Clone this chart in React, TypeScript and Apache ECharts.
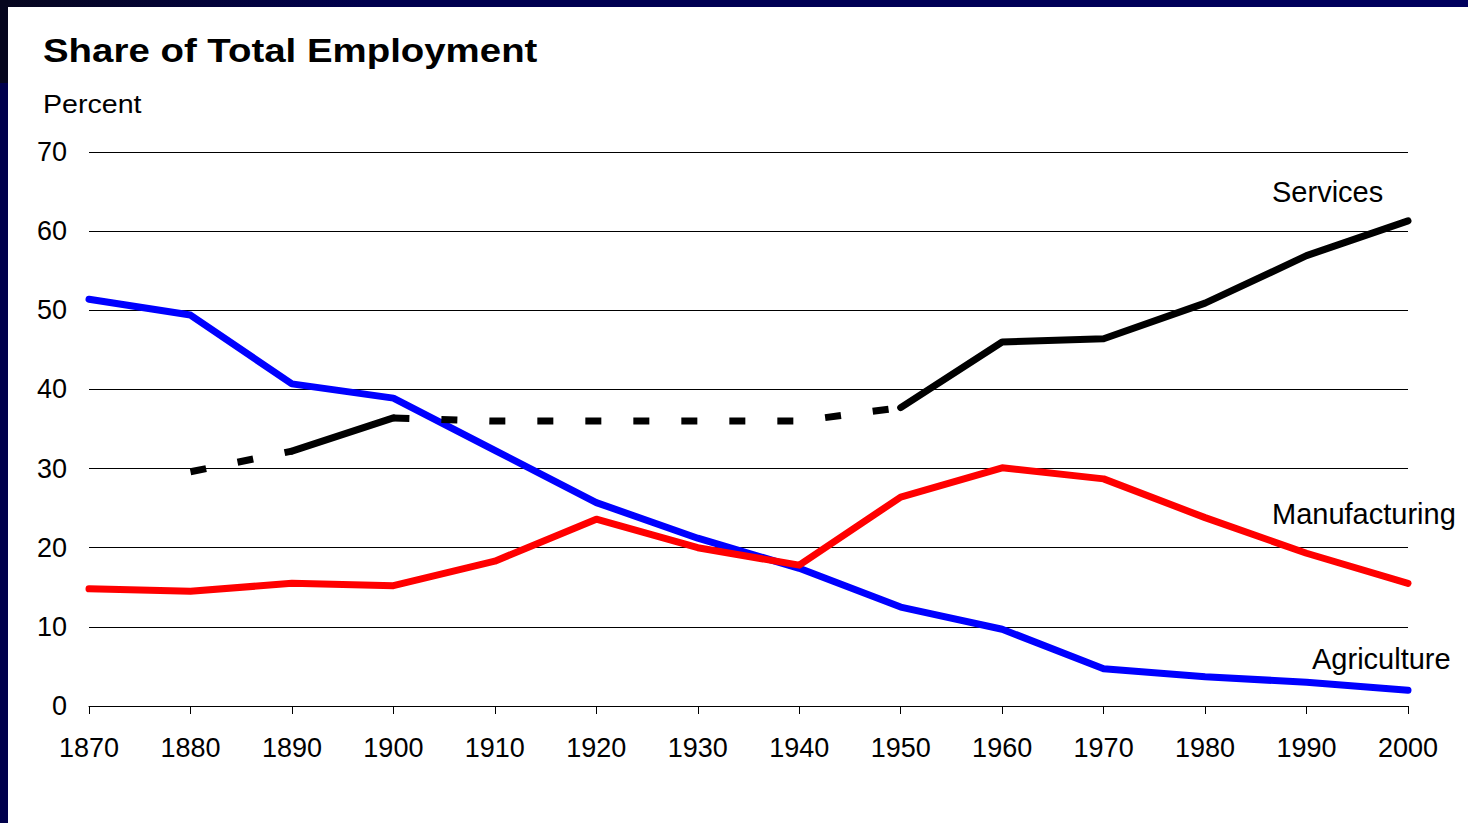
import React, { useEffect, useRef } from "react";
import * as echarts from "echarts";

const years = ["1870", "1880", "1890", "1900", "1910", "1920", "1930", "1940", "1950", "1960", "1970", "1980", "1990", "2000"];
const agriculture = [51.4, 49.4, 40.7, 38.9, 32.3, 25.7, 21.2, 17.4, 12.5, 9.7, 4.7, 3.7, 3.0, 2.0];
const manufacturing = [14.8, 14.5, 15.5, 15.2, 18.3, 23.6, 20.0, 17.8, 26.4, 30.1, 28.7, 23.8, 19.3, 15.5];
const services: (number | null)[] = [null, 29.6, 32.2, 36.4, 36.0, 36.0, 36.0, 36.0, 37.7, 46.0, 46.4, 50.9, 56.9, 61.3];
// index ranges of estimated (dashed) segments of the services line
const servicesDashedRanges = [[1, 2], [3, 8]];
const yTicks = { min: 0, max: 70, interval: 10 };

const FONT = '"Liberation Sans", Arial, sans-serif';

export default function App() {
  const ref = useRef<HTMLDivElement>(null);
  useEffect(() => {
    if (!ref.current) return;
    const chart = echarts.init(ref.current, undefined, { renderer: "svg" });

    const solidServices = services.map((v, i) => {
      const insideDashed = servicesDashedRanges.some(([a, b]) => i > a && i < b);
      const beforeFirst = i < servicesDashedRanges[0][1];
      return insideDashed || beforeFirst ? null : v;
    });
    const dashedSeries = servicesDashedRanges.map(([a, b]) =>
      services.map((v, i) => (i >= a && i <= b ? v : null))
    );

    const lineBase = (name: string, data: (number | null)[], color: string, dashed = false) => ({
      name,
      type: "line",
      data,
      symbol: "none",
      silent: true,
      connectNulls: false,
      lineStyle: {
        color,
        width: 7,
        type: dashed ? [16, 32] : "solid",
        cap: dashed ? "butt" : "round",
        join: "round",
      },
      emphasis: { disabled: true },
    });

    chart.setOption({
      animation: false,
      backgroundColor: "#ffffff",
      grid: { left: 89, right: 60, top: 152, bottom: 117, containLabel: false },
      xAxis: {
        type: "category",
        data: years,
        boundaryGap: false,
        axisLine: { show: true, lineStyle: { color: "#000", width: 1 } },
        axisTick: { show: true, length: 8, lineStyle: { color: "#000", width: 1 } },
        axisLabel: { color: "#000", fontSize: 27, fontFamily: FONT, margin: 28 },
        splitLine: { show: false },
      },
      yAxis: {
        type: "value",
        min: yTicks.min,
        max: yTicks.max,
        interval: yTicks.interval,
        axisLine: { show: false },
        axisTick: { show: false },
        axisLabel: { color: "#000", fontSize: 27, fontFamily: FONT, margin: 22 },
        splitLine: { show: true, lineStyle: { color: "#000", width: 1 } },
      },
      series: [
        lineBase("Agriculture", agriculture, "#0000ff"),
        lineBase("Manufacturing", manufacturing, "#ff0000"),
        lineBase("Services", solidServices, "#000000"),
        ...dashedSeries.map((d, k) => lineBase("Services est " + k, d, "#000000", true)),
      ],
      graphic: [
        {
          type: "rect",
          shape: { x: 0, y: 0, width: 1468, height: 7 },
          style: {
            fill: new echarts.graphic.LinearGradient(0, 0, 1, 0, [
              { offset: 0, color: "#07071f" },
              { offset: 0.25, color: "#00004e" },
              { offset: 1, color: "#00005e" },
            ]),
          },
          silent: true,
          z: 100,
        },
        {
          type: "rect",
          shape: { x: 0, y: 0, width: 8, height: 83 },
          style: { fill: "#06061e" },
          silent: true,
          z: 100,
        },
        {
          type: "rect",
          shape: { x: 0, y: 83, width: 8, height: 740 },
          style: { fill: "#00004c" },
          silent: true,
          z: 100,
        },
        {
          type: "text",
          x: 43,
          y: 50,
          scaleX: 1.13,
          style: {
            text: "Share of Total Employment",
            fontSize: 34,
            fontWeight: "bold",
            fontFamily: FONT,
            fill: "#000",
            align: "left",
            verticalAlign: "middle",
          },
          silent: true,
        },
        {
          type: "text",
          x: 43,
          y: 104,
          scaleX: 1.1,
          style: {
            text: "Percent",
            fontSize: 26,
            fontFamily: FONT,
            fill: "#000",
            align: "left",
            verticalAlign: "middle",
          },
          silent: true,
        },
        {
          type: "text",
          x: 1272,
          y: 192,
          style: { text: "Services", fontSize: 29, fontFamily: FONT, fill: "#000", align: "left", verticalAlign: "middle" },
          silent: true,
        },
        {
          type: "text",
          x: 1272,
          y: 514,
          style: { text: "Manufacturing", fontSize: 29, fontFamily: FONT, fill: "#000", align: "left", verticalAlign: "middle" },
          silent: true,
        },
        {
          type: "text",
          x: 1312,
          y: 659,
          style: { text: "Agriculture", fontSize: 29, fontFamily: FONT, fill: "#000", align: "left", verticalAlign: "middle" },
          silent: true,
        },
      ],
    });
    return () => chart.dispose();
  }, []);
  return (
    <div
      ref={ref}
      style={{ position: "fixed", left: 0, top: 0, width: 1468, height: 823 }}
    />
  );
}
